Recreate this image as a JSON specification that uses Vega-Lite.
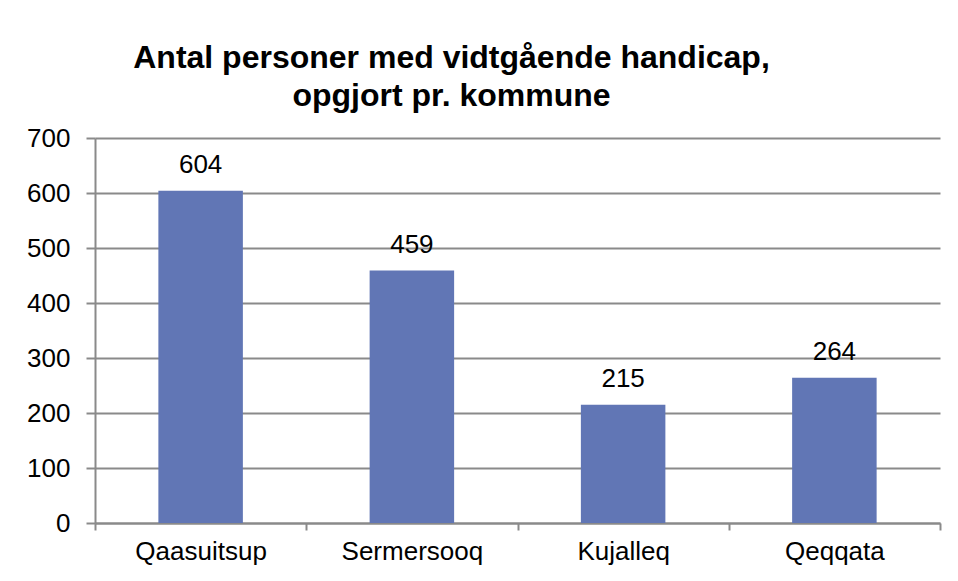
{
  "$schema": "https://vega.github.io/schema/vega-lite/v6.json",
  "width": 845,
  "height": 385,
  "autosize": {"type": "none"},
  "padding": {"left": 95, "top": 138, "right": 18, "bottom": 58},
  "background": "white",
  "title": {
    "text": ["Antal personer med vidtgående handicap,", "opgjort pr. kommune"],
    "font": "Liberation Sans",
    "fontSize": 32,
    "fontWeight": "bold",
    "color": "black",
    "anchor": "middle",
    "dx": -66,
    "lineHeight": 38,
    "offset": 12
  },
  "data": {
    "values": [
      {"kommune": "Qaasuitsup", "antal": 604},
      {"kommune": "Sermersooq", "antal": 459},
      {"kommune": "Kujalleq", "antal": 215},
      {"kommune": "Qeqqata", "antal": 264}
    ]
  },
  "config": {
    "view": {"stroke": null},
    "axis": {
      "labelFont": "Liberation Sans",
      "labelFontSize": 26,
      "labelColor": "black",
      "domainColor": "#8a8a8a",
      "domainWidth": 2,
      "tickColor": "#8a8a8a",
      "tickWidth": 2,
      "gridColor": "#8a8a8a",
      "gridWidth": 2,
      "title": null
    }
  },
  "encoding": {
    "x": {
      "field": "kommune",
      "type": "nominal",
      "sort": null,
      "scale": {"paddingInner": 0, "paddingOuter": 0},
      "axis": {"labelAngle": 0, "tickBand": "extent", "tickSize": 7, "labelPadding": 8, "grid": false}
    },
    "y": {
      "field": "antal",
      "type": "quantitative",
      "scale": {"domain": [0, 700], "nice": false},
      "axis": {"values": [0, 100, 200, 300, 400, 500, 600, 700], "tickSize": 9, "labelPadding": 16, "grid": true}
    }
  },
  "layer": [
    {"mark": {"type": "bar", "color": "#6176b5", "width": {"band": 0.4}}},
    {
      "mark": {"type": "text", "font": "Liberation Sans", "fontSize": 26, "color": "black", "baseline": "alphabetic", "dy": -18},
      "encoding": {"text": {"field": "antal", "type": "quantitative"}}
    }
  ]
}
